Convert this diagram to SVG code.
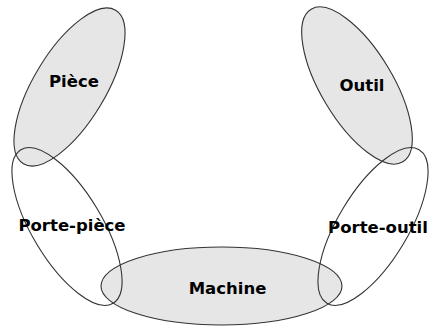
<svg xmlns="http://www.w3.org/2000/svg" width="429" height="327" viewBox="0 0 429 327">
<style>
.g{fill:#e6e6e6;stroke:#333;stroke-width:1.1}
.w{fill:none;stroke:#333;stroke-width:1.1}
text{font-family:"DejaVu Sans","Liberation Sans",sans-serif;font-weight:bold;font-size:16.5px;fill:#000;text-anchor:middle}
</style>
<rect width="429" height="327" fill="#fff"/>
<g id="piece"><ellipse class="g" cx="69.5" cy="87" rx="36" ry="89.5" transform="rotate(31 69.5 87)"/></g>
<g id="outil"><ellipse class="g" cx="357" cy="85.5" rx="36" ry="89" transform="rotate(-31 357 85.5)"/></g>
<g id="machine"><ellipse class="g" cx="221.5" cy="286" rx="120.5" ry="39"/></g>
<g id="porte-piece"><ellipse class="w" cx="67" cy="226.5" rx="35" ry="89.5" transform="rotate(-31 67 226.5)"/></g>
<g id="porte-outil"><ellipse class="w" cx="373" cy="226.5" rx="35" ry="89.5" transform="rotate(31 373 226.5)"/></g>
<g id="connectors"></g>
<g id="labels">
<text x="74" y="87">Pièce</text>
<text x="362" y="91">Outil</text>
<text x="72" y="231">Porte-pièce</text>
<text x="378" y="233">Porte-outil</text>
<text x="227.5" y="294">Machine</text>
</g>
</svg>
